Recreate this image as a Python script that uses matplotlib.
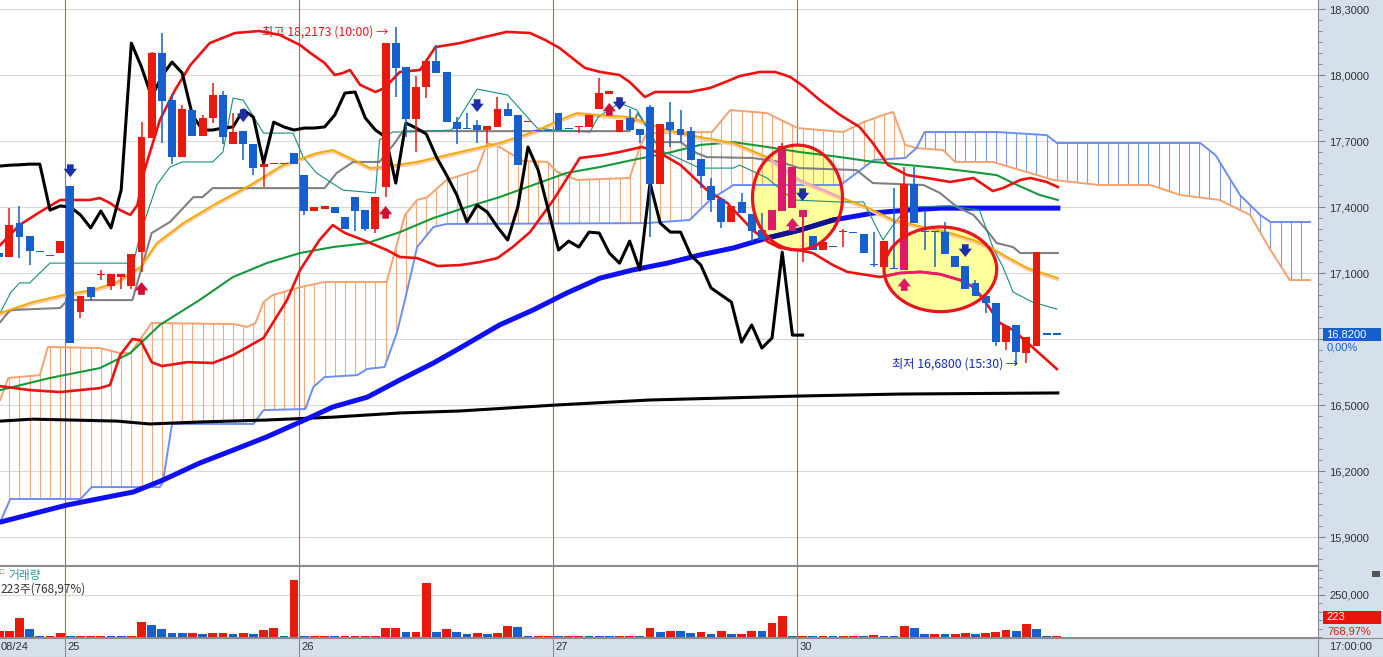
import numpy as np
import matplotlib
matplotlib.use("Agg")
import matplotlib.pyplot as plt
from matplotlib.patches import Ellipse, Polygon, Rectangle
from matplotlib.lines import Line2D
from matplotlib.ticker import MultipleLocator, FuncFormatter, FixedLocator
from matplotlib.transforms import blended_transform_factory, offset_copy

plt.rcParams['font.family'] = ['Liberation Sans', 'DejaVu Sans']
KR = ['Noto Sans CJK KR', 'DejaVu Sans']

# ---------------- candles (30 min bars, index 0..104) ----------------
opens = [17.191, 17.173, 17.327, 17.268, 17.196, 17.178, 17.191, 17.495, 16.923, 17.036,
         17.090, 17.041, 17.082, 17.041, 17.195, 17.714, 18.100, 17.886, 17.627, 17.841,
         17.723, 17.805, 17.909, 17.686, 17.745, 17.686, 17.582, 17.594, 17.594, 17.645,
         17.545, 17.382, 17.391, 17.400, 17.355, 17.445, 17.386, 17.300, 17.491, 18.145,
         18.036, 17.800, 17.945, 18.064, 18.014, 17.786, 17.756, 17.773, 17.750, 17.764,
         17.845, 17.818, 17.785, 17.746, 17.746, 17.827, 17.756, 17.763, 17.764, 17.845,
         17.914, 17.741, 17.805, 17.755, 17.855, 17.505, 17.786, 17.755, 17.745, 17.618,
         17.495, 17.436, 17.332, 17.423, 17.368, 17.295, 17.295, 17.382, 17.395, 17.355,
         17.268, 17.205, 17.219, 17.285, 17.283, 17.277, 17.137, 17.127, 17.119, 17.114,
         17.505, 17.287, 17.287, 17.286, 17.177, 17.132, 17.055, 16.995, 16.964, 16.786,
         16.864, 16.736, 16.768, 16.821, 16.821]
highs = [17.200, 17.396, 17.405, 17.268, 17.196, 17.178, 17.245, 17.495, 16.995, 17.036,
         17.114, 17.095, 17.095, 17.186, 17.786, 18.105, 18.191, 17.914, 17.864, 17.841,
         17.818, 17.964, 17.927, 17.827, 17.745, 17.686, 17.595, 17.595, 17.595, 17.645,
         17.545, 17.400, 17.405, 17.400, 17.355, 17.445, 17.386, 17.445, 18.145, 18.2173,
         18.036, 17.995, 18.064, 18.136, 18.014, 17.809, 17.827, 17.795, 17.768, 17.900,
         17.873, 17.818, 17.786, 17.746, 17.746, 17.827, 17.756, 17.764, 17.818, 17.986,
         17.927, 17.795, 17.845, 17.755, 17.864, 17.777, 17.877, 17.841, 17.764, 17.618,
         17.532, 17.436, 17.405, 17.464, 17.368, 17.373, 17.386, 17.691, 17.582, 17.386,
         17.268, 17.241, 17.219, 17.300, 17.283, 17.277, 17.286, 17.245, 17.486, 17.582,
         17.582, 17.386, 17.287, 17.332, 17.177, 17.132, 17.068, 16.995, 16.964, 16.859,
         16.864, 16.809, 17.195, 16.821, 16.821]
lows = [17.170, 17.173, 17.168, 17.136, 17.195, 17.177, 17.191, 16.782, 16.895, 16.977,
        17.068, 17.023, 17.027, 17.027, 17.105, 17.714, 17.691, 17.595, 17.627, 17.723,
        17.723, 17.782, 17.686, 17.686, 17.614, 17.545, 17.491, 17.594, 17.594, 17.595,
        17.364, 17.382, 17.391, 17.373, 17.300, 17.291, 17.291, 17.282, 17.445, 17.900,
        17.718, 17.650, 17.895, 18.009, 17.786, 17.686, 17.755, 17.691, 17.691, 17.764,
        17.814, 17.591, 17.785, 17.745, 17.745, 17.750, 17.755, 17.736, 17.764, 17.845,
        17.914, 17.741, 17.750, 17.691, 17.264, 17.505, 17.673, 17.691, 17.614, 17.486,
        17.377, 17.305, 17.332, 17.373, 17.241, 17.250, 17.295, 17.382, 17.395, 17.150,
        17.205, 17.205, 17.218, 17.218, 17.282, 17.191, 17.127, 17.127, 17.118, 17.114,
        17.327, 17.205, 17.127, 17.186, 17.127, 17.027, 16.995, 16.918, 16.768, 16.750,
        16.680, 16.690, 16.768, 16.820, 16.820]
closes = [17.173, 17.318, 17.264, 17.200, 17.195, 17.177, 17.245, 16.782, 16.995, 16.991,
          17.091, 17.095, 17.095, 17.186, 17.718, 18.100, 17.882, 17.627, 17.845, 17.723,
          17.805, 17.909, 17.718, 17.741, 17.686, 17.577, 17.595, 17.595, 17.595, 17.595,
          17.382, 17.400, 17.405, 17.373, 17.300, 17.382, 17.300, 17.445, 18.145, 18.032,
          17.800, 17.945, 18.064, 18.009, 17.786, 17.755, 17.755, 17.750, 17.768, 17.845,
          17.814, 17.591, 17.786, 17.745, 17.745, 17.750, 17.755, 17.764, 17.818, 17.918,
          17.927, 17.795, 17.750, 17.727, 17.505, 17.777, 17.750, 17.727, 17.614, 17.541,
          17.432, 17.332, 17.405, 17.373, 17.291, 17.250, 17.386, 17.677, 17.582, 17.386,
          17.205, 17.241, 17.218, 17.286, 17.282, 17.191, 17.136, 17.245, 17.118, 17.505,
          17.327, 17.286, 17.286, 17.186, 17.127, 17.027, 16.995, 16.964, 16.786, 16.859,
          16.741, 16.809, 17.195, 16.820, 16.820]

volume = [36000, 36000, 113000, 46000, 6000, 6000, 24000, 6000, 6000, 6000,
          6000, 6000, 6000, 6000, 88000, 70000, 46000, 24000, 24000, 24000,
          16000, 24000, 24000, 16000, 24000, 16000, 42000, 54000, 6000, 337000,
          6000, 6000, 6000, 6000, 6000, 6000, 6000, 6000, 54000, 54000,
          28000, 28000, 321000, 28000, 46000, 28000, 16000, 22000, 16000, 22000,
          64000, 58000, 6000, 6000, 6000, 6000, 6000, 6000, 6000, 6000,
          6000, 6000, 6000, 6000, 54000, 28000, 34000, 34000, 22000, 28000,
          16000, 34000, 16000, 16000, 34000, 34000, 82000, 123000, 6000, 6000,
          6000, 6000, 6000, 6000, 6000, 6000, 10000, 6000, 6000, 64000,
          52000, 16000, 16000, 16000, 16000, 22000, 16000, 22000, 28000, 40000,
          34000, 76000, 46000, 6000, 6000]
vol_up = [1, 1, 1, 0, 0, 1, 1, 0, 1, 1,
          1, 0, 0, 1, 1, 0, 0, 0, 0, 1,
          0, 1, 1, 0, 1, 0, 1, 1, 0, 1,
          0, 1, 1, 0, 1, 1, 1, 1, 1, 1,
          0, 1, 1, 0, 1, 0, 0, 1, 0, 1,
          1, 0, 0, 1, 1, 0, 1, 1, 0, 0,
          0, 1, 1, 0, 1, 0, 1, 0, 0, 1,
          0, 1, 0, 1, 1, 0, 1, 1, 0, 1,
          0, 1, 0, 1, 1, 0, 1, 0, 0, 1,
          0, 0, 1, 0, 1, 1, 0, 1, 1, 1,
          0, 1, 0, 0, 1]

# lagging span (close shifted back 26 bars), index 0..79
chikou = [17.586, 17.590, 17.592, 17.595, 17.595, 17.386, 17.405, 17.400, 17.364, 17.305,
          17.382, 17.305, 17.477, 18.145, 18.036, 17.900, 17.995, 18.059, 18.009, 17.818,
          17.750, 17.750, 17.759, 17.764, 17.841, 17.809, 17.600, 17.786, 17.764, 17.750,
          17.759, 17.759, 17.764, 17.818, 17.918, 17.923, 17.805, 17.750, 17.718, 17.509,
          17.782, 17.759, 17.732, 17.627, 17.545, 17.455, 17.332, 17.409, 17.377, 17.309,
          17.250, 17.400, 17.673, 17.568, 17.386, 17.205, 17.245, 17.218, 17.286, 17.282,
          17.191, 17.145, 17.245, 17.114, 17.509, 17.327, 17.286, 17.286, 17.182, 17.136,
          17.032, 17.000, 16.968, 16.786, 16.864, 16.759, 16.805, 17.195, 16.818, 16.818]

# bollinger bands
bb_up_x = [0.1, 2.0, 4.0, 6.0, 8.9, 9.9, 10.9, 11.9, 12.9, 13.6, 14.3, 15.8, 17.3, 18.8, 20.7, 23.2,
           25.6, 27.6, 29.6, 30.6, 32.0, 33.0, 33.8, 34.5, 35.5, 37.0, 37.9, 39.4, 41.4, 42.9, 45.3,
           47.3, 49.9, 52.2, 53.7, 55.1, 56.6, 57.6, 59.1, 61.0, 62.0, 63.5, 64.5, 67.9, 69.9, 71.4,
           72.8, 74.8, 76.3, 77.8, 79.2, 80.7, 82.7, 84.6, 85.9, 87.4, 89.3, 91.2, 93.5, 95.8, 97.7,
           98.7, 100.4, 101.4, 103.0, 104.1]
bb_up_y = [17.227, 17.318, 17.377, 17.432, 17.432, 17.441, 17.418, 17.386, 17.364, 17.409, 17.568,
           17.795, 17.932, 18.045, 18.145, 18.191, 18.200, 18.182, 18.136, 18.100, 18.055, 18.000,
           18.009, 18.023, 17.955, 17.923, 17.941, 18.014, 18.023, 18.127, 18.145, 18.168, 18.196,
           18.191, 18.159, 18.123, 18.068, 18.032, 18.014, 18.000, 17.968, 17.900, 17.923, 17.923,
           17.941, 17.968, 17.995, 18.014, 18.014, 17.991, 17.945, 17.886, 17.818, 17.764, 17.691,
           17.591, 17.545, 17.532, 17.514, 17.532, 17.473, 17.486, 17.523, 17.532, 17.514, 17.491]
bb_dn_x = [0.1, 3.0, 6.0, 9.9, 10.9, 11.9, 13.1, 13.9, 15.0, 16.0, 18.5, 21.0, 23.0, 26.0, 28.3,
           29.6, 31.5, 32.8, 34.0, 35.8, 38.1, 39.4, 41.1, 43.1, 45.3, 47.3, 49.0, 50.5, 52.2, 54.5,
           57.1, 59.4, 61.0, 63.2, 65.0, 67.0, 69.6, 71.6, 74.1, 75.6, 76.8, 78.5, 80.0, 82.0, 83.4,
           86.6, 88.6, 90.6, 92.5, 94.5, 95.8, 96.7, 98.4, 99.7, 101.7, 104.0]
bb_dn_y = [16.586, 16.568, 16.559, 16.577, 16.591, 16.727, 16.800, 16.795, 16.695, 16.677, 16.695,
           16.691, 16.727, 16.805, 16.977, 17.114, 17.250, 17.318, 17.282, 17.250, 17.205, 17.173,
           17.168, 17.132, 17.136, 17.150, 17.168, 17.218, 17.286, 17.432, 17.623, 17.636, 17.650,
           17.673, 17.645, 17.591, 17.477, 17.418, 17.295, 17.241, 17.214, 17.205, 17.191, 17.136,
           17.105, 17.082, 17.100, 17.105, 17.095, 17.068, 17.036, 16.986, 16.873, 16.841, 16.759,
           16.664]

# moving averages
ma_long_x = [0.1, 6.7, 13.2, 16.1, 19.7, 23.0, 26.3, 29.6, 32.8, 36.2, 39.4, 42.7, 45.3, 49.2,
             52.5, 55.8, 59.1, 62.3, 65.7, 68.9, 72.2, 75.5, 78.7, 82.0, 86.0, 89.3, 92.5, 104.1]
ma_long_y = [15.968, 16.046, 16.105, 16.159, 16.236, 16.295, 16.355, 16.423, 16.491, 16.536,
             16.614, 16.691, 16.759, 16.864, 16.932, 17.009, 17.077, 17.114, 17.145, 17.182,
             17.214, 17.259, 17.295, 17.341, 17.373, 17.386, 17.395, 17.395]
ma_base_x = [0.1, 3.3, 11.6, 14.8, 19.7, 26.3, 32.8, 39.4, 45.3, 54.7, 64.0, 78.7, 88.6, 104.1]
ma_base_y = [16.427, 16.436, 16.427, 16.414, 16.423, 16.432, 16.445, 16.464, 16.473, 16.500,
             16.523, 16.541, 16.550, 16.555]
ma_mid_x = [0.1, 5.0, 9.9, 12.9, 15.8, 19.7, 23.0, 26.3, 29.6, 32.8, 36.2, 39.4, 42.7, 46.0, 49.2,
            52.5, 55.8, 59.1, 62.3, 65.7, 68.9, 72.2, 75.5, 78.7, 82.7, 86.0, 89.3, 92.5, 95.8, 98.1,
            100.1, 102.3, 104.1]
ma_mid_y = [16.568, 16.623, 16.668, 16.736, 16.864, 16.977, 17.082, 17.145, 17.191, 17.218, 17.236,
            17.286, 17.350, 17.400, 17.445, 17.500, 17.555, 17.582, 17.614, 17.645, 17.682, 17.695,
            17.673, 17.650, 17.627, 17.605, 17.591, 17.577, 17.559, 17.545, 17.500, 17.455, 17.432]
ma_fast_x = [0.1, 3.3, 6.3, 9.2, 11.6, 13.9, 15.5, 18.1, 21.4, 24.7, 27.9, 31.2, 32.8, 34.5, 36.5,
             37.7, 41.1, 45.3, 49.2, 52.5, 55.8, 56.8, 59.1, 62.0, 65.7, 68.9, 72.2, 75.5, 78.7,
             82.7, 85.3, 87.9, 90.9, 93.2, 95.8, 97.4, 99.1, 101.1, 104.1]
ma_fast_y = [16.918, 16.968, 17.000, 17.023, 17.059, 17.127, 17.236, 17.327, 17.418, 17.500, 17.591,
             17.645, 17.659, 17.623, 17.577, 17.582, 17.605, 17.650, 17.691, 17.741, 17.809, 17.827,
             17.818, 17.809, 17.750, 17.718, 17.691, 17.627, 17.523, 17.445, 17.400, 17.341, 17.309,
             17.286, 17.250, 17.218, 17.173, 17.123, 17.077]

# ichimoku: base line, conversion line, leading spans
kijun_x = [0.1, 1.1, 6.0, 6.7, 13.1, 15.0, 16.8, 19.1, 20.0, 21.0, 32.0, 33.2, 34.8, 37.4, 38.9,
           39.7, 62.0, 62.8, 63.7, 64.3, 67.0, 68.6, 69.6, 74.1, 76.8, 78.7, 84.3, 85.9, 90.9, 92.5,
           94.2, 95.8, 97.1, 98.1, 99.7, 100.4, 104.1]
kijun_y = [16.877, 16.932, 16.941, 16.977, 16.977, 17.282, 17.332, 17.445, 17.445, 17.486, 17.486,
           17.555, 17.605, 17.605, 17.691, 17.745, 17.745, 17.827, 17.764, 17.695, 17.695, 17.645,
           17.627, 17.623, 17.605, 17.577, 17.568, 17.509, 17.500, 17.464, 17.400, 17.364, 17.295,
           17.236, 17.218, 17.191, 17.191]
tenkan_x = [0.1, 1.1, 2.0, 3.0, 5.0, 13.2, 13.9, 15.5, 16.8, 18.0, 21.0, 22.0, 23.0, 24.0, 26.0,
            28.9, 29.9, 31.2, 33.8, 37.0, 37.4, 38.7, 40.1, 44.5, 47.0, 50.0, 52.9, 54.5, 58.1,
            58.9, 61.0, 62.7, 65.0, 68.9, 72.2, 72.8, 75.5, 78.1, 82.7, 85.0, 86.9, 87.9, 89.3,
            93.5, 96.4, 97.7, 98.7, 99.7, 101.6, 104.0]
tenkan_y = [16.918, 17.009, 17.055, 17.055, 17.145, 17.145, 17.282, 17.500, 17.582, 17.605, 17.605,
            17.650, 17.895, 17.886, 17.736, 17.736, 17.627, 17.555, 17.477, 17.464, 17.705, 17.741,
            17.741, 17.750, 17.936, 17.909, 17.759, 17.750, 17.741, 17.809, 17.873, 17.841, 17.659,
            17.577, 17.577, 17.591, 17.532, 17.432, 17.423, 17.423, 17.250, 17.318, 17.400, 17.405,
            17.386, 17.218, 17.127, 17.014, 16.968, 16.936]
span_a_x = [0.1, 0.9, 4.0, 4.8, 9.9, 11.9, 12.9, 15.0, 23.0, 24.4, 25.2, 26.0, 26.9, 29.6, 32.0,
            38.1, 39.9, 41.1, 42.1, 44.0, 47.0, 48.0, 49.2, 51.5, 53.9, 54.9, 56.8, 62.0, 63.0, 63.7,
            70.1, 71.9, 75.5, 78.5, 83.0, 85.0, 86.9, 87.9, 89.1, 90.2, 92.8, 94.0, 97.7, 99.7,
            102.1, 103.6, 108.2, 113.2, 116.1, 120.0, 123.0, 125.0, 126.9, 128.9]
span_a_y = [16.523, 16.623, 16.636, 16.764, 16.759, 16.736, 16.736, 16.873, 16.868, 16.855, 16.873,
            16.968, 17.000, 17.036, 17.059, 17.059, 17.364, 17.432, 17.445, 17.523, 17.568, 17.691,
            17.673, 17.609, 17.605, 17.559, 17.523, 17.532, 17.673, 17.736, 17.741, 17.841, 17.827,
            17.759, 17.741, 17.786, 17.818, 17.832, 17.682, 17.668, 17.659, 17.605, 17.605, 17.577,
            17.545, 17.523, 17.500, 17.500, 17.455, 17.432, 17.364, 17.205, 17.068, 17.068]
span_b_x = [0.1, 1.1, 8.0, 9.1, 15.8, 16.1, 17.0, 25.0, 26.0, 30.1, 30.9, 32.0, 35.2, 36.2, 37.9,
            39.1, 39.9, 41.1, 42.7, 44.0, 63.7, 67.9, 69.9, 72.2, 82.7, 83.4, 86.0, 89.1, 90.2,
            91.0, 98.1, 103.0, 104.0, 118.1, 119.6, 122.0, 124.0, 125.0, 128.9]
span_b_y = [15.968, 16.073, 16.073, 16.127, 16.127, 16.150, 16.414, 16.414, 16.477, 16.482, 16.582,
            16.627, 16.636, 16.664, 16.673, 16.827, 16.977, 17.218, 17.309, 17.323, 17.327, 17.341,
            17.432, 17.500, 17.500, 17.523, 17.614, 17.623, 17.668, 17.741, 17.741, 17.727, 17.691,
            17.691, 17.636, 17.455, 17.364, 17.332, 17.332]
cloud_turn = 90  # spans cross here

# signal arrows (bar index, tip price)
sig_dn_i = [7, 24, 47, 61, 79, 95]
sig_dn_p = [17.536, 17.786, 17.832, 17.841, 17.427, 17.173]
sig_up_i = [14, 38, 60]
sig_up_p = [17.059, 17.405, 17.873]
sig_pk_i = [78, 89]
sig_pk_p = [17.350, 17.077]

# highlighted zones (center bar, center price, width bars, height price)
zones = [(78.5, 17.443, 8.85, 0.477), (92.55, 17.117, 11.08, 0.385)]

day_breaks = [6.5, 29.5, 54.5, 78.5]
day_labels = ['25', '26', '27', '30']
price_ticks = [15.9, 16.2, 16.5, 16.8, 17.1, 17.4, 17.7, 18.0, 18.3]
last_price = 16.82

RED = '#E81A0E'
BLUE = '#1560CC'
PINK = '#E0186A'
BAND = '#D6E0EC'

W, H = 1383, 657
fig = plt.figure(figsize=(W / 100, H / 100), dpi=100)
fig.patch.set_facecolor(BAND)
ax = fig.add_axes([0, 1 - 565 / H, 1318 / W, 565 / H])
axv = fig.add_axes([0, 1 - 637 / H, 1318 / W, 71 / H])
XL = (0.0855, 129.68)
YL = (15.773, 18.341)

for a in (ax, axv):
    a.set_facecolor('white')
    a.set_xlim(*XL)
    a.set_axisbelow(True)
    for s in ('left', 'top'):
        a.spines[s].set_visible(False)
    for s in ('right', 'bottom'):
        a.spines[s].set_color('#8C8C8C')
    a.tick_params(axis='x', bottom=False, labelbottom=False)
    a.yaxis.tick_right()
    for b in day_breaks:
        a.axvline(b, color='#B86464', lw=0.8, zorder=0.6)
axv.spines['top'].set_visible(True)
axv.spines['top'].set_color('#8C8C8C')
ax.set_ylim(*YL)

# price axis
ax.yaxis.set_major_locator(FixedLocator(price_ticks))
ax.yaxis.set_minor_locator(MultipleLocator(0.05))
ax.yaxis.set_major_formatter(FuncFormatter(
    lambda v, p: '' if abs(v - 16.8) < 1e-6 else f'{v:.4f}'.replace('.', ',')))
ax.tick_params(axis='y', which='major', length=5, color='#808080', labelsize=8,
               labelcolor='#333333', pad=3)
ax.tick_params(axis='y', which='minor', length=3, color='#808080')
ax.grid(axis='y', which='major', color='#D8D8D8', lw=0.8)

# ichimoku cloud hatch
cloud_i = np.arange(0, 129)
poly = Polygon(np.column_stack([np.r_[span_a_x, span_b_x[::-1]], np.r_[span_a_y, span_b_y[::-1]]]),
               closed=True, transform=ax.transData)
hcol = ['#F6A878' if i <= cloud_turn else '#7C98F0' for i in cloud_i]
vl = ax.vlines(cloud_i, YL[0], YL[1], colors=hcol, lw=0.8, zorder=1)
vl.set_clip_path(poly)

# highlight fills
ells = []
for cx, cy, w, h in zones:
    e = Ellipse((cx, cy), w, h, facecolor='#FFFF9C', edgecolor='none', zorder=0.8)
    ax.add_patch(e)
    ells.append(e)

ax.plot(span_a_x, span_a_y, color='#F5A26E', lw=1.4, zorder=2)
ax.plot(span_b_x, span_b_y, color='#6C8EF2', lw=1.4, zorder=2)

ax.plot(ma_base_x, ma_base_y, color='black', lw=2.2, zorder=3)
ax.plot(ma_long_x, ma_long_y, color='#0F0FF5', lw=3.6, zorder=3)
ax.plot(ma_mid_x, ma_mid_y, color='#14993A', lw=1.5, zorder=3)
ax.plot(ma_fast_x, ma_fast_y, color='#FFC8A0', lw=1.5, zorder=3,
        transform=offset_copy(ax.transData, fig=fig, x=0, y=-2, units='dots'))
ax.plot(ma_fast_x, ma_fast_y, color='#F2A900', lw=1.4, zorder=3.1)
ax.plot(kijun_x, kijun_y, color='#808080', lw=1.5, zorder=3)
ax.plot(tenkan_x, tenkan_y, color='#14907F', lw=0.8, zorder=3)
ax.plot(bb_up_x, bb_up_y, color='#EE1111', lw=1.9, zorder=3.2)
ax.plot(bb_dn_x, bb_dn_y, color='#EE1111', lw=1.9, zorder=3.2)
ax.plot(np.arange(len(chikou)), chikou, color='black', lw=2.2, zorder=3.5)

# recolour inside highlights
l1, = ax.plot(ma_long_x, ma_long_y, color='#121290', lw=3.6, zorder=3.05)
l1.set_clip_path(ells[0])
l2, = ax.plot(ma_fast_x, ma_fast_y, color='#F0A8C8', lw=1.6, zorder=3.15)
l2.set_clip_path(ells[0])
l3, = ax.plot(bb_dn_x, bb_dn_y, color='#F0186A', lw=1.9, zorder=3.25)
l3.set_clip_path(ells[1])

# candles
xi = np.arange(len(opens))
o = np.array(opens)
c = np.array(closes)
hi = np.array(highs)
lo = np.array(lows)
up = c > o
col = np.where(up, RED, BLUE)
body_lo = np.minimum(o, c)
body_h = np.maximum(np.abs(c - o), 0.006)
ax.vlines(xi, lo, hi, colors=col, lw=1.1, zorder=5)
ax.bar(xi, body_h, bottom=body_lo, width=0.78, color=col, linewidth=0, zorder=5.5)
for e in ells:
    wk = ax.vlines(xi[up], lo[up], hi[up], colors=PINK, lw=1.1, zorder=5.1)
    wk.set_clip_path(e)
    bars = ax.bar(xi[up], body_h[up], bottom=body_lo[up], width=0.78, color=PINK,
                  linewidth=0, zorder=5.6)
    for b in bars:
        b.set_clip_path(e)

for cx, cy, w, h in zones:
    ax.add_patch(Ellipse((cx, cy), w, h, fill=False, edgecolor='#E8141E', lw=2.3, zorder=6))

# signal arrows
AL = 0.058
def arrow(i, tip, sign, color):
    ax.annotate('', xy=(i, tip), xytext=(i, tip + sign * AL),
                arrowprops=dict(arrowstyle='simple,head_length=0.5,head_width=0.8,tail_width=0.4',
                                fc=color, ec='none', mutation_scale=12, shrinkA=0, shrinkB=0),
                zorder=7)

for i, p in zip(sig_dn_i, sig_dn_p):
    arrow(i, p, 1, '#1A2FA8')
for i, p in zip(sig_up_i, sig_up_p):
    arrow(i, p, -1, '#D01030')
for i, p in zip(sig_pk_i, sig_pk_p):
    arrow(i, p, -1, PINK)

ax.text(25.85, 18.196, '최고 18,2173 (10:00) →', color='#E8141E', fontsize=8.8, family=KR,
        ha='left', va='center', zorder=8)
ax.text(87.8, 16.686, '최저 16,6800 (15:30) →', color='#1428C8', fontsize=8.8, family=KR,
        ha='left', va='center', zorder=8)

# volume panel
axv.set_ylim(0, 422600)
axv.bar(np.arange(len(volume)), volume, width=0.86,
        color=[RED if u else BLUE for u in vol_up], linewidth=0, zorder=3)
axv.yaxis.set_major_locator(FixedLocator([250000]))
axv.yaxis.set_minor_locator(MultipleLocator(50000))
axv.yaxis.set_major_formatter(FuncFormatter(lambda v, p: f'{int(v):,}'))
axv.tick_params(axis='y', which='major', length=5, color='#808080', labelsize=8,
                labelcolor='#333333', pad=3)
axv.tick_params(axis='y', which='minor', length=3, color='#808080')
axv.grid(axis='y', which='major', color='#D8D8D8', lw=0.8)

# figure-level labels and boxes
fx = lambda px: px / W
fy = lambda py: 1 - py / H

fig.text(fx(0), fy(573), '□', color='#777777', fontsize=5, ha='left', va='center')
fig.text(fx(8), fy(576), '거래량', color='#2A9A9A', fontsize=8.5, family=KR, ha='left', va='center')
fig.text(fx(0), fy(589), '223주(768,97%)', color='#333333', fontsize=8.5, family=KR,
         ha='left', va='center')

fig.patches.append(Rectangle((fx(1323), fy(341)), fx(58), 13 / H, transform=fig.transFigure,
                             facecolor=BLUE, edgecolor='none'))
fig.text(fx(1326), fy(334.5), f'{last_price:.4f}'.replace('.', ','), color='white', fontsize=8,
         ha='left', va='center')
fig.text(fx(1327), fy(347), '0,00%', color=BLUE, fontsize=8, ha='left', va='center')

fig.patches.append(Rectangle((fx(1323), fy(624)), fx(58), 13 / H, transform=fig.transFigure,
                             facecolor='#E8140A', edgecolor='none'))
fig.text(fx(1326), fy(617.5), '223', color='white', fontsize=8, ha='left', va='center')
fig.text(fx(1327), fy(631), '768,97%', color='#E8140A', fontsize=8, ha='left', va='center')
fig.patches.append(Rectangle((fx(1372), fy(577)), fx(8), 6 / H, transform=fig.transFigure,
                             facecolor='#555555', edgecolor='none'))

# date band
for py in (637.5, 656.5):
    fig.add_artist(Line2D([0, 1], [fy(py), fy(py)], color='#8C8C8C', lw=0.8))
fig.add_artist(Line2D([fx(1318), fx(1318)], [0, fy(637)], color='#8C8C8C', lw=0.8))
bt = blended_transform_factory(axv.transData, fig.transFigure)
for b, lab in zip(day_breaks, day_labels):
    fig.add_artist(Line2D([b, b], [0, fy(637)], transform=bt, color='#8C8C8C', lw=0.8))
    fig.text(b + 0.2, fy(647), lab, transform=bt, color='#333333', fontsize=8,
             ha='left', va='center')
fig.text(fx(1), fy(647), '08/24', color='#333333', fontsize=8, ha='left', va='center')
fig.text(fx(1329), fy(647), '17:00:00', color='#333333', fontsize=8, ha='left', va='center')

fig.savefig('out.png', dpi=100, facecolor=fig.get_facecolor())
